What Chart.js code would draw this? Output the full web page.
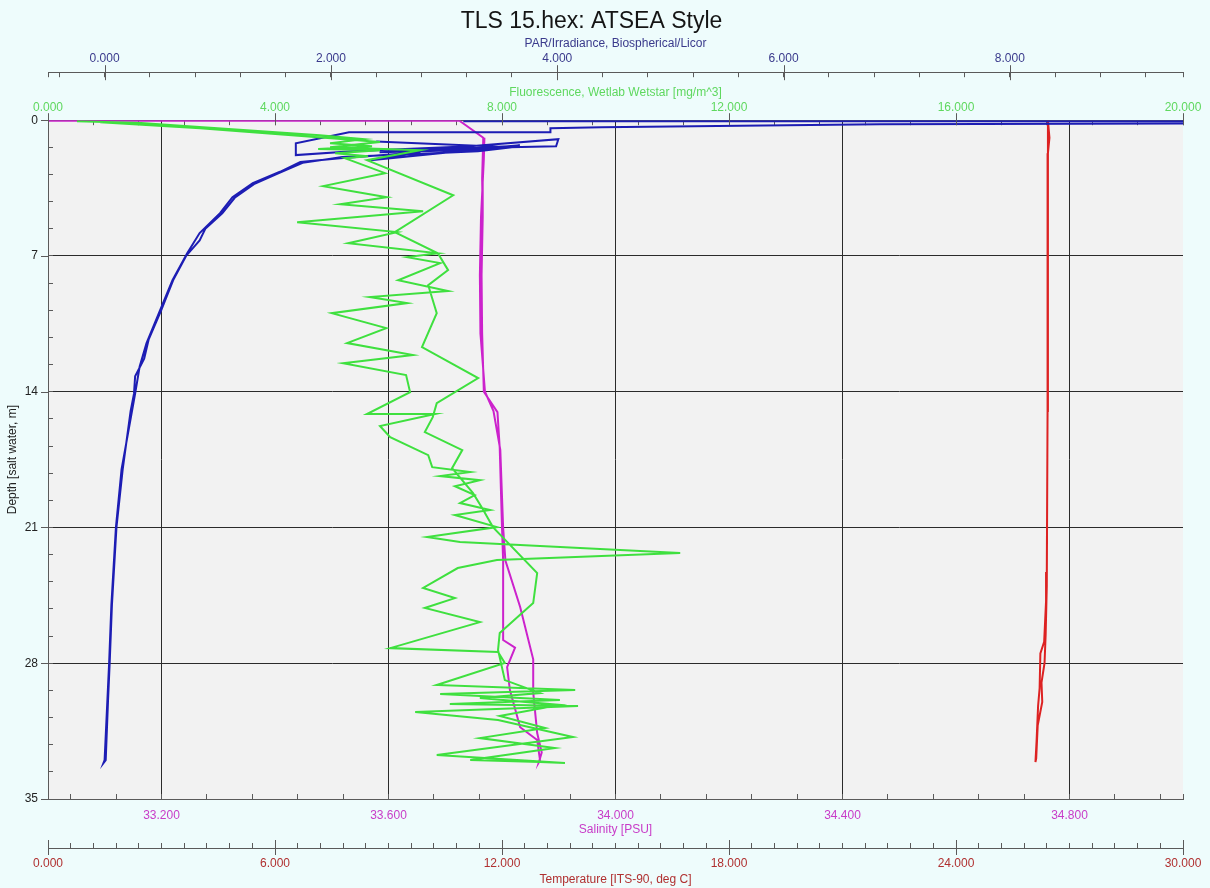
<!DOCTYPE html>
<html>
<head>
<meta charset="utf-8">
<title>TLS 15.hex: ATSEA Style</title>
<script src="https://cdn.jsdelivr.net/npm/chart.js@4.4.1/dist/chart.umd.min.js"></script>
<style>
  html, body { margin: 0; padding: 0; background: #eefcfc; }
  #wrap { width: 1210px; height: 888px; }
</style>
</head>
<body>
<div id="wrap"><canvas id="cast" width="1210" height="888"></canvas></div>
<script>
// CTD cast TLS 15 (down cast, then up cast)

// PAR/Irradiance, Biospherical/Licor
const parDepth = [0.05, 0.05, 0.15, 0.21, 0.36, 0.41, 0.62, 0.62, 1.19, 1.80,
  1.60, 1.34, 0.98, 1.34, 1.44, 1.65, 1.55, 1.29, 2.06, 1.65,
  1.96, 2.15, 2.66, 3.25, 3.97, 4.79, 5.82, 6.86, 8.25, 9.8,
  11.5, 12.7, 14.1, 18, 21, 25, 28, 33, 33.15,
  33.0, 30, 28, 25, 21, 18, 15, 14.1, 13.2, 12.3,
  11.3, 9.8, 8.2, 7.0, 6.2, 5.6, 4.8, 4.0, 3.3, 2.7,
  2.2, 1.9, 1.75, 1.6, 1.4, 1.1];
const parValue = [3.17, 10.5, 10.5, 6.85, 4.39, 3.94, 3.94, 2.16, 1.69, 1.69,
  2.19, 3.23, 4.01, 3.99, 3.17, 2.43, 3.14, 3.67, 2.35, 2.79,
  2.08, 1.73, 1.55, 1.31, 1.13, 1.02, 0.84, 0.73, 0.60, 0.49,
  0.37, 0.31, 0.27, 0.15, 0.10, 0.06, 0.04, 0.00, -0.01,
  0.01, 0.03, 0.045, 0.065, 0.105, 0.16, 0.23, 0.26, 0.27, 0.35,
  0.39, 0.50, 0.61, 0.72, 0.84, 0.89, 1.04, 1.15, 1.32, 1.55,
  1.75, 2.1, 2.7, 3.3, 3.6, 2.4];

// Fluorescence, Wetlab Wetstar [mg/m^3]
const fluDepth = [0.05, 0.15, 0.77, 0.98, 1.19, 1.34, 1.49, 1.55, 1.70, 1.86,
  1.96, 2.73, 3.40, 3.97, 4.33, 4.69, 5.26, 5.77, 6.34, 6.86,
  7.06, 7.37, 8.25, 8.81, 9.12, 9.43, 9.95, 10.72, 11.49, 12.11,
  12.53, 13.14, 14.02, 15.15, 15.15, 15.77, 16.34, 17.27, 17.89, 18.14,
  18.35, 18.56, 18.87, 19.33, 19.74, 20.10, 20.36, 20.98, 21.49, 21.75,
  22.32, 22.68, 23.09, 24.12, 24.64, 25.15, 25.88, 27.22, 27.42, 27.99,
  29.12, 29.38, 29.59, 29.90, 30.10, 30.21, 30.52, 30.93, 31.80, 32.73,
  33.14, 33.09,
  32.99, 32.37, 31.86, 31.34, 30.72, 30.15, 29.79, 29.54, 28.87, 27.32,
  26.44, 24.90, 23.35, 20.98, 20.0, 19.23, 17.94, 17.01, 16.08, 15.31,
  14.59, 13.30, 11.70, 9.95, 8.51, 7.73, 6.86, 5.77, 3.87, 2.06,
  1.55, 1.39, 1.13, 0.41, 0.10];
const fluValue = [0.51, 1.64, 4.79, 5.57, 4.97, 5.71, 4.76, 5.85, 5.06, 5.64,
  5.23, 5.94, 4.85, 5.97, 5.15, 6.61, 4.39, 6.15, 5.29, 6.87,
  6.33, 6.91, 6.17, 7.05, 5.67, 6.33, 5.00, 5.96, 5.27, 6.43,
  5.20, 6.31, 6.38, 5.62, 6.82, 5.85, 6.03, 6.70, 6.77, 7.44,
  6.91, 7.61, 7.17, 7.52, 7.26, 7.79, 7.17, 7.91, 6.68, 7.26,
  11.14, 7.91, 7.22, 6.61, 7.17, 6.64, 7.61, 6.03, 7.93, 8.05,
  6.85, 9.29, 6.91, 9.02, 7.08, 9.34, 6.47, 7.93, 9.25, 6.85,
  9.11, 8.67,
  7.44, 8.93, 7.61, 8.76, 7.96, 9.02, 7.61, 8.67, 8.05, 7.93,
  7.96, 8.55, 8.62, 7.84, 7.65, 7.49, 7.12, 7.30, 6.64, 6.78,
  6.85, 7.58, 6.59, 6.85, 6.70, 7.05, 6.87, 6.11, 7.14, 5.62,
  6.56, 4.97, 5.85, 2.68, 0.92];

// Salinity [PSU]
const salDepth = [0.03, 0.03, 0.9, 3, 5, 8, 11, 14.0, 15.05, 16.9,
  21, 22.7, 26.8, 27.2, 28.2, 29.4, 31.3, 31.96, 33.0,
  33.1, 32.6, 31.6, 29.5, 27.8, 25.1, 22.7, 21, 17, 15,
  14, 11, 8, 5, 2, 0.9];
const salValue = [32.9, 33.725, 33.767, 33.765, 33.766, 33.764, 33.765, 33.768, 33.792, 33.796,
  33.800, 33.802, 33.802, 33.823, 33.809, 33.814, 33.832, 33.862, 33.867,
  33.865, 33.870, 33.862, 33.855, 33.855, 33.832, 33.806, 33.802, 33.797, 33.785,
  33.770, 33.762, 33.761, 33.763, 33.768, 33.769];

// Temperature [ITS-90, deg C]
const tmpDepth = [0.02, 0.9, 1.7, 14.5, 15.2, 23.3, 24.8, 26.9, 27.5, 29.3, 30.2, 32.0, 33.1,
  32.9, 31.2, 30.0, 29.0, 28.0, 26.5, 24.0, 15.0, 0.02];
const tmpValue = [26.43, 26.47, 26.43, 26.43, 26.41, 26.40, 26.38, 26.33, 26.23, 26.21, 26.17, 26.13, 26.10,
  26.12, 26.16, 26.28, 26.26, 26.34, 26.37, 26.40, 26.42, 26.43];

// labelled (major) ticks of each axis
const parMajor = [0, 2, 4, 6, 8];
const fluMajor = [0, 4, 8, 12, 16, 20];
const salMajor = [33.2, 33.6, 34.0, 34.4, 34.8];
const tmpMajor = [0, 6, 12, 18, 24, 30];
const depthMajor = [0, 7, 14, 21, 28, 35];

const FONT = "'Liberation Sans', Arial, sans-serif";
const AXIS_GREY = '#5a5a5a';
const GRID = '#2b2b2b';

function toPoints(depths, values) {
  return depths.map((d, i) => ({ x: values[i], y: d }));
}

function inList(list, v) {
  return list.some(m => Math.abs(m - v) < 1e-6);
}

// small tick marks every `step` (aligned on `start`) plus both axis ends
function tickList(min, max, step, start) {
  const out = [min];
  const k0 = Math.ceil((min - start) / step - 1e-9);
  for (let k = k0; ; k++) {
    const v = +(start + k * step).toFixed(6);
    if (v >= max - 1e-9) break;
    if (v > min + 1e-9) out.push(v);
  }
  out.push(max);
  return out.map(v => ({ value: v }));
}

function xAxis(o) {
  return {
    type: 'linear',
    position: o.position,
    weight: o.weight,
    min: o.min,
    max: o.max,
    afterFit: s => {
      s.height = o.height;
      // end labels may hang over the plot edges, keep plot width fixed
      s.paddingLeft = 0;
      s.paddingRight = 0;
    },
    afterBuildTicks: s => { s.ticks = tickList(o.min, o.max, o.step, o.start); },
    border: { display: true, color: AXIS_GREY, width: 1 },
    grid: {
      drawOnChartArea: !!o.gridLines,
      color: c => (o.gridLines && c.tick && c.tick.value > o.min && c.tick.value < o.max && inList(o.major, c.tick.value)) ? GRID : 'rgba(0,0,0,0)',
      tickColor: AXIS_GREY,
      tickLength: -5,
      lineWidth: 1
    },
    ticks: {
      autoSkip: false,
      maxRotation: 0,
      padding: o.labelPad,
      color: o.color,
      font: { family: FONT, size: 12 },
      callback: v => inList(o.major, v) ? v.toFixed(3) : ''
    },
    title: {
      display: true,
      text: o.title,
      color: o.color,
      font: { family: FONT, size: 12 },
      padding: o.titlePad
    }
  };
}

const plotBackground = {
  id: 'plotBackground',
  beforeDraw(chart) {
    const { ctx, chartArea: a } = chart;
    ctx.save();
    ctx.fillStyle = '#f2f2f2';
    ctx.fillRect(a.left, a.top, a.right - a.left, a.bottom - a.top);
    ctx.restore();
  }
};

// longer marks at the labelled ticks, crossing the axis line
const majorMarks = {
  id: 'majorMarks',
  afterDraw(chart) {
    const { ctx, scales } = chart;
    const marks = [
      { id: 'par', list: parMajor, edge: s => s.bottom, before: 7, after: 8 },
      { id: 'flu', list: fluMajor, edge: s => s.bottom, before: 7, after: 5 },
      { id: 'tmp', list: tmpMajor, edge: s => s.top, before: 8, after: 7 }
    ];
    ctx.save();
    ctx.strokeStyle = AXIS_GREY;
    ctx.lineWidth = 1;
    ctx.beginPath();
    marks.forEach(m => {
      const s = scales[m.id];
      const y0 = m.edge(s) - m.before;
      const y1 = m.edge(s) + m.after;
      m.list.forEach(v => {
        const x = Math.round(s.getPixelForValue(v)) + 0.5;
        ctx.moveTo(x, y0);
        ctx.lineTo(x, y1);
      });
    });
    const ys = scales.y;
    depthMajor.forEach(v => {
      const y = Math.round(ys.getPixelForValue(v)) + 0.5;
      ctx.moveTo(ys.right - 7, y);
      ctx.lineTo(ys.right, y);
    });
    ctx.stroke();
    ctx.restore();
  }
};

const lineStyle = { showLine: true, pointRadius: 0, pointHoverRadius: 0, tension: 0, borderWidth: 2, yAxisID: 'y' };

new Chart(document.getElementById('cast'), {
  type: 'scatter',
  data: {
    datasets: [
      Object.assign({ label: 'Fluorescence', data: toPoints(fluDepth, fluValue), xAxisID: 'flu', borderColor: '#3fe03f', backgroundColor: '#3fe03f' }, lineStyle),
      Object.assign({ label: 'PAR', data: toPoints(parDepth, parValue), xAxisID: 'par', borderColor: '#1d1db4', backgroundColor: '#1d1db4' }, lineStyle),
      Object.assign({ label: 'Salinity', data: toPoints(salDepth, salValue), xAxisID: 'sal', borderColor: '#cc22cc', backgroundColor: '#cc22cc' }, lineStyle),
      Object.assign({ label: 'Temperature', data: toPoints(tmpDepth, tmpValue), xAxisID: 'tmp', borderColor: '#dd2222', backgroundColor: '#dd2222' }, lineStyle)
    ]
  },
  options: {
    responsive: false,
    animation: false,
    devicePixelRatio: 1,
    layout: { padding: { left: 0, right: 27, top: 0, bottom: 0 } },
    plugins: {
      legend: { display: false },
      tooltip: { enabled: false },
      title: {
        display: true,
        text: 'TLS 15.hex: ATSEA Style',
        color: '#151515',
        font: { family: FONT, size: 23, weight: 'normal' },
        padding: { top: 7.8, bottom: 0 }
      }
    },
    scales: {
      par: xAxis({ position: 'top', weight: 2, min: -0.5, max: 9.53, step: 0.4, start: 0, major: parMajor,
        height: 36.8, labelPad: 11.8, color: '#3a3a8c', title: 'PAR/Irradiance, Biospherical/Licor',
        titlePad: { top: 0.6, bottom: 0 } }),
      flu: xAxis({ position: 'top', weight: 1, min: 0, max: 20, step: 0.8, start: 0, major: fluMajor,
        height: 48, labelPad: 10.8, color: '#5fd85f', title: 'Fluorescence, Wetlab Wetstar [mg/m^3]',
        titlePad: { top: 12.8, bottom: 0 } }),
      sal: xAxis({ position: 'bottom', weight: 1, min: 33, max: 35, step: 0.08, start: 33.2, major: salMajor,
        gridLines: true, height: 49, labelPad: 14.8, color: '#c83cc8', title: 'Salinity [PSU]',
        titlePad: { top: 0, bottom: 10.8 } }),
      tmp: xAxis({ position: 'bottom', weight: 2, min: 0, max: 30, step: 0.6, start: 0, major: tmpMajor,
        height: 40, labelPad: 13.8, color: '#b03030', title: 'Temperature [ITS-90, deg C]',
        titlePad: { top: 0, bottom: 0.8 } }),
      y: {
        type: 'linear',
        position: 'left',
        reverse: true,
        min: 0,
        max: 35,
        afterFit: s => { s.width = 48; },
        afterBuildTicks: s => { s.ticks = tickList(0, 35, 1.4, 0); },
        border: { display: true, color: AXIS_GREY, width: 1 },
        grid: {
          color: c => (c.tick && c.tick.value > 0 && c.tick.value < 35 && inList(depthMajor, c.tick.value)) ? GRID : 'rgba(0,0,0,0)',
          tickColor: AXIS_GREY,
          tickLength: -5,
          lineWidth: 1
        },
        ticks: {
          autoSkip: false,
          padding: 15,
          color: '#222',
          font: { family: FONT, size: 12 },
          callback: v => inList(depthMajor, v) ? String(v) : ''
        },
        title: {
          display: true,
          text: 'Depth [salt water, m]',
          color: '#222',
          font: { family: FONT, size: 12 },
          padding: { top: 5, bottom: 0 }
        }
      }
    }
  },
  plugins: [plotBackground, majorMarks]
});
</script>
</body>
</html>
